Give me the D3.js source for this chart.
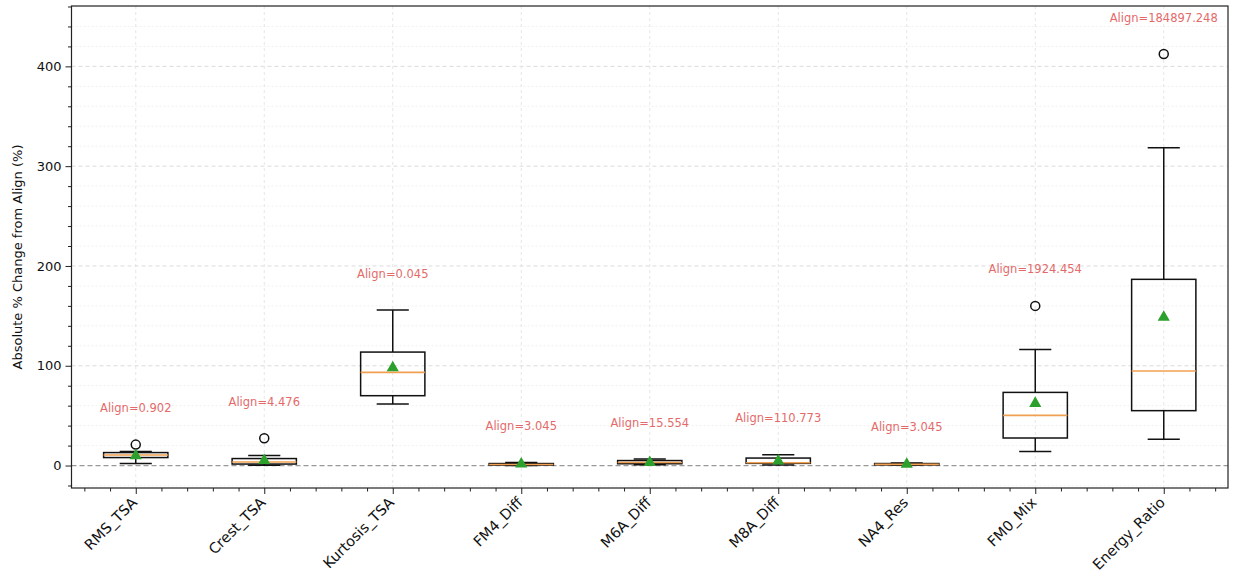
<!DOCTYPE html>
<html>
<head>
<meta charset="utf-8">
<script src="https://cdn.jsdelivr.net/npm/d3@7"></script>
<style>
  html, body { margin: 0; padding: 0; background: #fff; }
  svg { display: block; font-family: "DejaVu Sans", sans-serif; }
</style>
</head>
<body>
<svg id="chart" width="1235" height="579"></svg>
<script>
// Features and their box statistics (absolute % change from the aligned baseline)
const categories = ["RMS_TSA", "Crest_TSA", "Kurtosis_TSA", "FM4_Diff", "M6A_Diff",
                    "M8A_Diff", "NA4_Res", "FM0_Mix", "Energy_Ratio"];
const whiskerLow  = [2.0, 0.3, 61.6, 0.1, 0.8, 0.5, 0.2, 14.2, 26.3];
const q1          = [8.0, 1.5, 70.0, 0.5, 1.8, 2.2, 0.6, 27.6, 55.0];
const medians     = [10.5, 3.5, 93.4, 1.0, 3.0, 2.8, 1.2, 50.3, 94.7];
const q3          = [13.0, 7.0, 113.7, 2.0, 5.0, 7.5, 2.0, 73.3, 186.6];
const whiskerHigh = [14.0, 10.0, 155.8, 3.0, 6.5, 10.8, 2.5, 116.4, 318.5];
const means       = [9.8, 5.0, 98.0, 1.5, 3.0, 4.5, 1.2, 62.3, 148.5];
const outliers    = [[21.0], [27.3], [], [], [], [], [], [160.0], [412.4]];
// Baseline (Align) value of each feature, printed above its box
const alignValues = ["0.902", "4.476", "0.045", "3.045", "15.554", "110.773",
                     "3.045", "1924.454", "184897.248"];
const yTicks = [0, 100, 200, 300, 400];

const svg = d3.select("#chart");
const margin = { left: 71.5, right: 1228, top: 6, bottom: 488 };

const x = d3.scaleLinear().domain([0.5, categories.length + 0.5]).range([margin.left, margin.right]);
const y = d3.scaleLinear().domain([-22.5, 460.5]).range([margin.bottom, margin.top]);

const boxW = 0.5, capW = 0.25;
const labelOffset = 36;

const plot = svg.append("g");

// minor horizontal grid
const yMinor = d3.range(-20, 461, 20).filter(v => v % 100 !== 0);
plot.selectAll(".gminor").data(yMinor).join("line")
  .attr("x1", margin.left).attr("x2", margin.right)
  .attr("y1", d => y(d)).attr("y2", d => y(d))
  .attr("stroke", "#e8e8e8").attr("stroke-width", 0.6).attr("stroke-dasharray", "2,2");

// major grid
plot.selectAll(".gmajor").data(yTicks.filter(v => v !== 0)).join("line")
  .attr("x1", margin.left).attr("x2", margin.right)
  .attr("y1", d => y(d)).attr("y2", d => y(d))
  .attr("stroke", "#d2d2d2").attr("stroke-width", 0.8).attr("stroke-dasharray", "4,3");
plot.selectAll(".gx").data(categories).join("line")
  .attr("x1", (d, i) => x(i + 1)).attr("x2", (d, i) => x(i + 1))
  .attr("y1", margin.top).attr("y2", margin.bottom)
  .attr("stroke", "#e0e0e0").attr("stroke-width", 0.8).attr("stroke-dasharray", "3,3");

// zero reference line
plot.append("line")
  .attr("x1", margin.left).attr("x2", margin.right)
  .attr("y1", y(0)).attr("y2", y(0))
  .attr("stroke", "#999").attr("stroke-width", 1.2).attr("stroke-dasharray", "5,3");

// boxes
const boxes = plot.selectAll(".box").data(categories).join("g");
boxes.each(function(d, i) {
  const g = d3.select(this);
  const cx = x(i + 1);
  const half = (x(boxW) - x(0)) / 2;
  const capHalf = (x(capW) - x(0)) / 2;
  // whiskers
  g.append("line").attr("x1", cx).attr("x2", cx).attr("y1", y(q3[i])).attr("y2", y(whiskerHigh[i]))
    .attr("stroke", "#111").attr("stroke-width", 1.5);
  g.append("line").attr("x1", cx).attr("x2", cx).attr("y1", y(q1[i])).attr("y2", y(whiskerLow[i]))
    .attr("stroke", "#111").attr("stroke-width", 1.5);
  // caps
  [whiskerHigh[i], whiskerLow[i]].forEach(v => {
    g.append("line").attr("x1", cx - capHalf).attr("x2", cx + capHalf).attr("y1", y(v)).attr("y2", y(v))
      .attr("stroke", "#111").attr("stroke-width", 1.5);
  });
  // box
  g.append("rect").attr("x", cx - half).attr("width", half * 2)
    .attr("y", y(q3[i])).attr("height", y(q1[i]) - y(q3[i]))
    .attr("fill", "none").attr("stroke", "#111").attr("stroke-width", 1.5);
  // median
  g.append("line").attr("x1", cx - half).attr("x2", cx + half)
    .attr("y1", y(medians[i])).attr("y2", y(medians[i]))
    .attr("stroke", "#f0a050").attr("stroke-width", 1.6);
  // outliers
  g.selectAll("circle").data(outliers[i]).join("circle")
    .attr("cx", cx).attr("cy", v => y(v)).attr("r", 4.5)
    .attr("fill", "none").attr("stroke", "#111").attr("stroke-width", 1.5);
  // mean marker
  g.append("path")
    .attr("d", d3.symbol().type(d3.symbolTriangle).size(64)())
    .attr("transform", `translate(${cx},${y(means[i])})`)
    .attr("fill", "#2ca02c");
  // Align annotation
  const top = Math.max(whiskerHigh[i], ...outliers[i]);
  g.append("text")
    .attr("x", cx).attr("y", y(top + labelOffset))
    .attr("text-anchor", "middle").attr("dominant-baseline", "middle")
    .attr("font-size", 11.5).attr("fill", "#e46a6a")
    .text("Align=" + alignValues[i]);
});

// frame
svg.append("rect")
  .attr("x", margin.left).attr("y", margin.top)
  .attr("width", margin.right - margin.left).attr("height", margin.bottom - margin.top)
  .attr("fill", "none").attr("stroke", "#222").attr("stroke-width", 1.2);

// y axis
const yAxis = d3.axisLeft(y).tickValues(yTicks).tickSize(6).tickPadding(4).tickFormat(d3.format("d"));
const yg = svg.append("g").attr("transform", `translate(${margin.left},0)`).call(yAxis);
yg.select(".domain").remove();
yg.selectAll("text").attr("font-size", 13).attr("fill", "#111").attr("font-family", "DejaVu Sans");
yg.selectAll("line").attr("stroke", "#222");
const yMinorAxis = d3.axisLeft(y).tickValues(yMinor).tickSize(3.5).tickFormat("");
const ymg = svg.append("g").attr("transform", `translate(${margin.left},0)`).call(yMinorAxis);
ymg.select(".domain").remove();
ymg.selectAll("line").attr("stroke", "#222");

// x axis
const xAxis = d3.axisBottom(x).tickValues(d3.range(1, categories.length + 1)).tickSize(6).tickFormat("");
const xg = svg.append("g").attr("transform", `translate(0,${margin.bottom})`).call(xAxis);
xg.select(".domain").remove();
xg.selectAll("line").attr("stroke", "#222");
const xMinorVals = d3.range(0.6, categories.length + 0.45, 0.2).filter(v => Math.abs(v - Math.round(v)) > 0.05);
const xMinorAxis = d3.axisBottom(x).tickValues(xMinorVals).tickSize(3.5).tickFormat("");
const xmg = svg.append("g").attr("transform", `translate(0,${margin.bottom})`).call(xMinorAxis);
xmg.select(".domain").remove();
xmg.selectAll("line").attr("stroke", "#222");

// rotated category labels
svg.append("g").selectAll("text").data(categories).join("text")
  .attr("transform", (d, i) => `translate(${x(i + 1) - 5},${margin.bottom + 8}) rotate(-45)`)
  .attr("text-anchor", "end").attr("dy", "0.72em")
  .attr("font-size", 14.5).attr("fill", "#111")
  .text(d => d);

// y axis title
svg.append("text")
  .attr("transform", `translate(22,${(margin.top + margin.bottom) / 2 + 10}) rotate(-90)`)
  .attr("text-anchor", "middle")
  .attr("font-size", 13).attr("fill", "#111")
  .text("Absolute % Change from Align (%)");
</script>
</body>
</html>
